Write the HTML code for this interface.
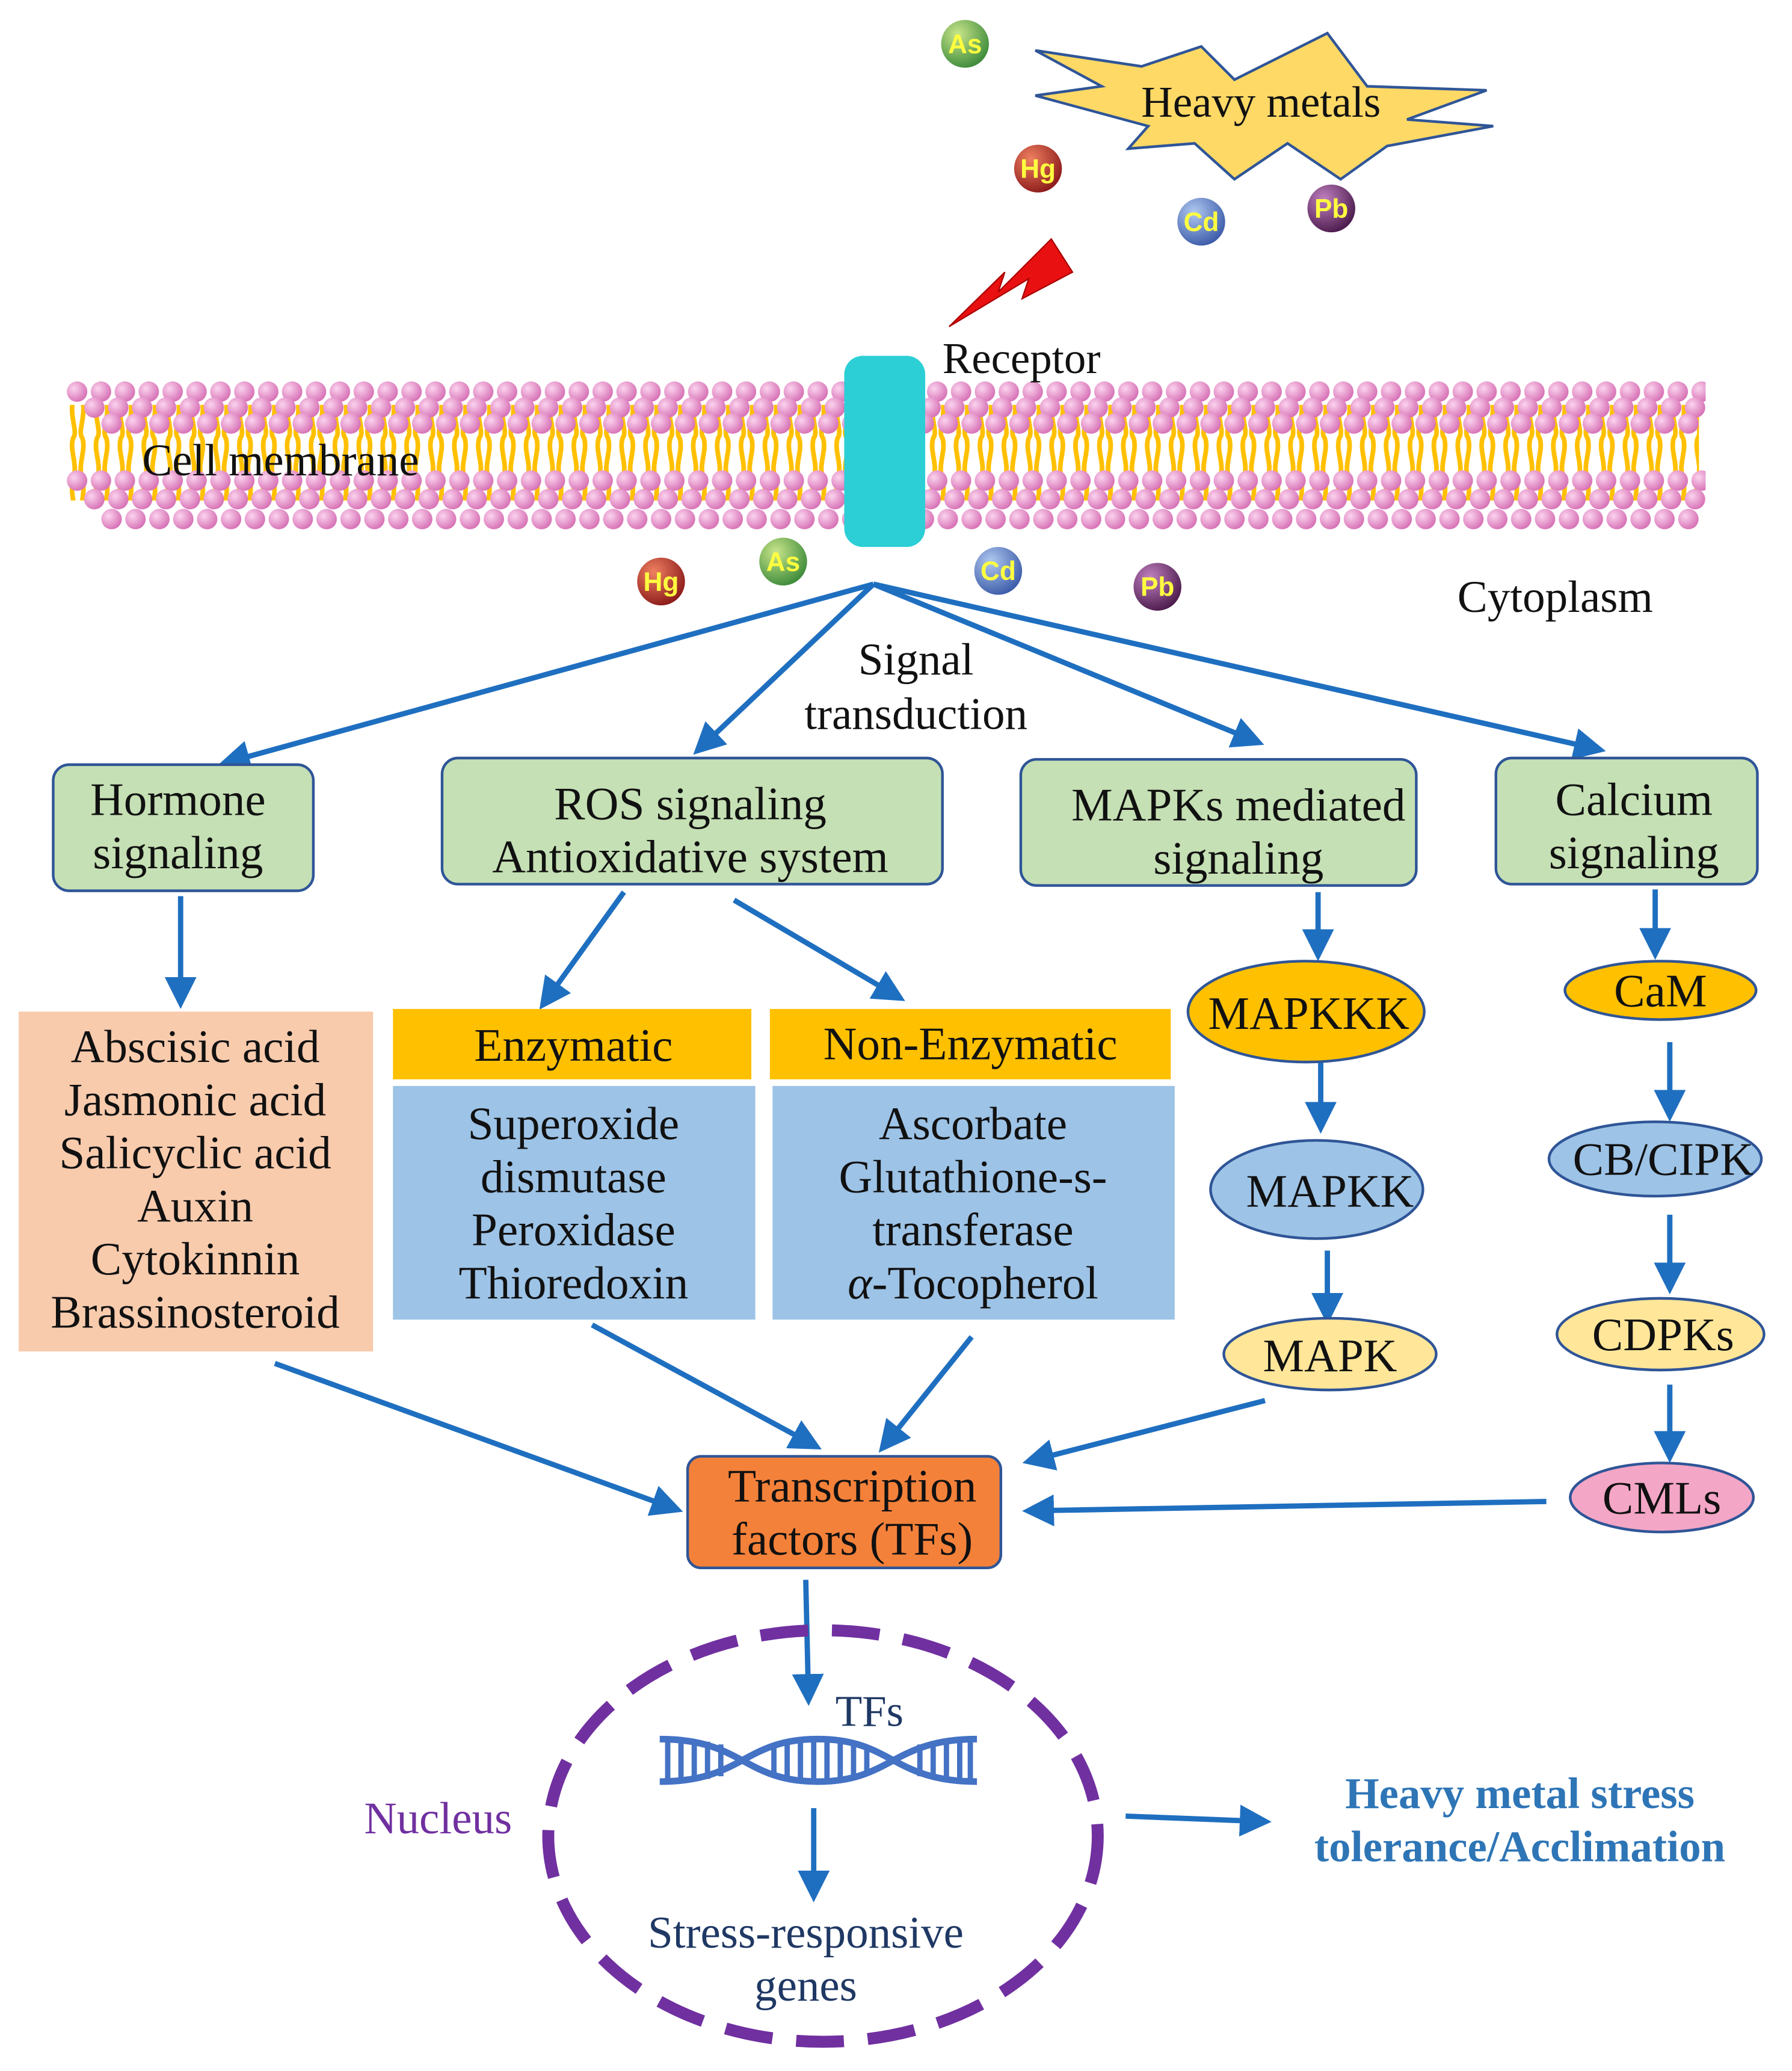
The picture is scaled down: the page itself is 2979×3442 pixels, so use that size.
<!DOCTYPE html>
<html><head><meta charset="utf-8"><style>
html,body{margin:0;padding:0;background:#fff}
svg{display:block}
text{font-family:"Liberation Serif",serif;fill:#111}
</style></head><body>
<svg width="2979" height="3442" viewBox="0 0 1350 1560" xmlns="http://www.w3.org/2000/svg">
<defs>
<radialGradient id="pk" cx="0.35" cy="0.35" r="0.7"><stop offset="0" stop-color="#fbd3ee"/><stop offset="1" stop-color="#d66fb4"/></radialGradient>
<radialGradient id="gA" cx="0.35" cy="0.3" r="0.75"><stop offset="0" stop-color="#c9e58a"/><stop offset="1" stop-color="#3b8a3a"/></radialGradient>
<radialGradient id="gH" cx="0.35" cy="0.3" r="0.75"><stop offset="0" stop-color="#f08060"/><stop offset="1" stop-color="#8a1a1a"/></radialGradient>
<radialGradient id="gC" cx="0.35" cy="0.3" r="0.75"><stop offset="0" stop-color="#b0c8f0"/><stop offset="1" stop-color="#3a5aa8"/></radialGradient>
<radialGradient id="gP" cx="0.35" cy="0.3" r="0.75"><stop offset="0" stop-color="#c080c0"/><stop offset="1" stop-color="#4a1a4a"/></radialGradient>
<pattern id="tail" x="50" y="0" width="18" height="60" patternUnits="userSpaceOnUse">
<path d="M5 0 C2 15 9 25 5 30 C2 40 9 50 5 60 M12 0 C15 15 8 25 12 30 C15 40 8 50 12 60" stroke="#ffc000" stroke-width="3.5" fill="none"/>
</pattern>
<pattern id="a1" x="49" y="286" width="18" height="18" patternUnits="userSpaceOnUse"><circle cx="9" cy="9" r="7.7" fill="url(#pk)"/></pattern>
<pattern id="a2" x="62" y="298" width="18" height="18" patternUnits="userSpaceOnUse"><circle cx="9" cy="9" r="7.7" fill="url(#pk)"/></pattern>
<pattern id="a3" x="75" y="310" width="18" height="18" patternUnits="userSpaceOnUse"><circle cx="9" cy="9" r="7.7" fill="url(#pk)"/></pattern>
<pattern id="b1" x="49" y="353" width="18" height="18" patternUnits="userSpaceOnUse"><circle cx="9" cy="9" r="7.7" fill="url(#pk)"/></pattern>
<pattern id="b2" x="62" y="367" width="18" height="18" patternUnits="userSpaceOnUse"><circle cx="9" cy="9" r="7.7" fill="url(#pk)"/></pattern>
<pattern id="b3" x="75" y="382" width="18" height="18" patternUnits="userSpaceOnUse"><circle cx="9" cy="9" r="7.7" fill="url(#pk)"/></pattern>
<marker id="ar" markerWidth="6" markerHeight="6" refX="4" refY="3" orient="auto" markerUnits="strokeWidth"><path d="M0,0 L6,3 L0,6 z" fill="#1f6fc0"/></marker>
</defs>

<!-- membrane -->
<rect x="52" y="305" width="1228" height="72" fill="url(#tail)"/>
<rect x="49" y="353" width="1236" height="18" fill="url(#b1)"/>
<rect x="62" y="367" width="1224" height="18" fill="url(#b2)"/>
<rect x="75" y="382" width="1206" height="18" fill="url(#b3)"/>
<rect x="49" y="286" width="1236" height="18" fill="url(#a1)"/>
<rect x="62" y="298" width="1224" height="18" fill="url(#a2)"/>
<rect x="75" y="310" width="1206" height="18" fill="url(#a3)"/>
<text x="107" y="358" font-size="34">Cell membrane</text>
<rect x="636" y="268" width="61" height="144" rx="14" fill="#2ccfd6"/>
<text x="710" y="281" font-size="33">Receptor</text>

<polygon points="780,38 860,50 905,35 930,60 1000,25 1030,65 1120,68 1060,90 1125,95 1045,110 1010,135 970,108 930,135 900,108 850,112 865,95 780,72 830,65" fill="#ffd966" stroke="#2f5597" stroke-width="2"/>
<text x="950" y="88" font-size="33" text-anchor="middle">Heavy metals</text>
<polygon points="792,180 808,205 770,225 775,210 715,246 757,205 752,220" fill="#e81010" stroke="#a00" stroke-width="1"/>

<g font-weight="bold" font-size="20" text-anchor="middle">
<circle cx="727" cy="33" r="18" fill="url(#gA)"/><text x="727" y="40" style="font-family:'Liberation Sans',sans-serif;fill:#ffff40">As</text>
<circle cx="782" cy="127" r="18" fill="url(#gH)"/><text x="782" y="134" style="font-family:'Liberation Sans',sans-serif;fill:#ffff40">Hg</text>
<circle cx="905" cy="167" r="18" fill="url(#gC)"/><text x="905" y="174" style="font-family:'Liberation Sans',sans-serif;fill:#ffff40">Cd</text>
<circle cx="1003" cy="157" r="18" fill="url(#gP)"/><text x="1003" y="164" style="font-family:'Liberation Sans',sans-serif;fill:#ffff40">Pb</text>
<circle cx="498" cy="438" r="18" fill="url(#gH)"/><text x="498" y="445" style="font-family:'Liberation Sans',sans-serif;fill:#ffff40">Hg</text>
<circle cx="590" cy="423" r="18" fill="url(#gA)"/><text x="590" y="430" style="font-family:'Liberation Sans',sans-serif;fill:#ffff40">As</text>
<circle cx="752" cy="430" r="18" fill="url(#gC)"/><text x="752" y="437" style="font-family:'Liberation Sans',sans-serif;fill:#ffff40">Cd</text>
<circle cx="872" cy="442" r="18" fill="url(#gP)"/><text x="872" y="449" style="font-family:'Liberation Sans',sans-serif;fill:#ffff40">Pb</text>
</g>
<text x="1098" y="461" font-size="34">Cytoplasm</text>
<text x="690" y="508" font-size="34" text-anchor="middle">Signal</text>
<text x="690" y="549" font-size="34" text-anchor="middle">transduction</text>

<g stroke="#1f6fc0" stroke-width="4" fill="none" marker-end="url(#ar)">
<line x1="658" y1="440" x2="172" y2="574"/>
<line x1="658" y1="440" x2="528" y2="563"/>
<line x1="658" y1="440" x2="945" y2="558"/>
<line x1="658" y1="440" x2="1202" y2="564"/>
<line x1="136" y1="675" x2="136" y2="752"/>
<line x1="470" y1="672" x2="411" y2="754"/>
<line x1="553" y1="678" x2="675" y2="750"/>
<line x1="993" y1="672" x2="993" y2="716"/>
<line x1="1247" y1="670" x2="1247" y2="715"/>
<line x1="995" y1="800" x2="995" y2="846"/>
<line x1="1000" y1="942" x2="1000" y2="990"/>
<line x1="1258" y1="785" x2="1258" y2="837"/>
<line x1="1258" y1="915" x2="1258" y2="967"/>
<line x1="1258" y1="1043" x2="1258" y2="1094"/>
<line x1="207" y1="1027" x2="507" y2="1136"/>
<line x1="446" y1="998" x2="612" y2="1088"/>
<line x1="732" y1="1007" x2="667" y2="1088"/>
<line x1="953" y1="1055" x2="778" y2="1100"/>
<line x1="1165" y1="1131" x2="778" y2="1138"/>
<line x1="607" y1="1190" x2="609" y2="1277"/>
<line x1="613" y1="1362" x2="613" y2="1425"/>
<line x1="848" y1="1368" x2="950" y2="1372"/>
</g>

<g stroke="#2f5597" stroke-width="2" fill="#c5e0b4">
<rect x="40" y="576" width="196" height="95" rx="12"/>
<rect x="333" y="571" width="377" height="95" rx="12"/>
<rect x="769" y="572" width="298" height="95" rx="12"/>
<rect x="1127" y="571" width="197" height="95" rx="12"/>
</g>
<g font-size="35" text-anchor="middle">
<text x="134" y="614">Hormone</text><text x="134" y="654">signaling</text>
<text x="520" y="617">ROS signaling</text><text x="520" y="657">Antioxidative system</text>
<text x="933" y="618">MAPKs mediated</text><text x="933" y="658">signaling</text>
<text x="1231" y="614">Calcium</text><text x="1231" y="654">signaling</text>
</g>

<rect x="14" y="762" width="267" height="256" fill="#f8cbad"/>
<g font-size="35" text-anchor="middle">
<text x="147" y="800">Abscisic acid</text><text x="147" y="840">Jasmonic acid</text><text x="147" y="880">Salicyclic acid</text>
<text x="147" y="920">Auxin</text><text x="147" y="960">Cytokinnin</text><text x="147" y="1000">Brassinosteroid</text>
</g>
<rect x="296" y="760" width="270" height="53" fill="#ffc000"/>
<rect x="296" y="818" width="273" height="176" fill="#9dc3e6"/>
<rect x="580" y="760" width="302" height="53" fill="#ffc000"/>
<rect x="582" y="818" width="303" height="176" fill="#9dc3e6"/>
<g font-size="35" text-anchor="middle">
<text x="432" y="799">Enzymatic</text>
<text x="731" y="798">Non-Enzymatic</text>
<text x="432" y="858">Superoxide</text><text x="432" y="898">dismutase</text><text x="432" y="938">Peroxidase</text><text x="432" y="978">Thioredoxin</text>
<text x="733" y="858">Ascorbate</text><text x="733" y="898">Glutathione-s-</text><text x="733" y="938">transferase</text><text x="733" y="978"><tspan font-style="italic">α</tspan>-Tocopherol</text>
</g>

<g stroke="#2f5597" stroke-width="2">
<ellipse cx="984" cy="762" rx="89" ry="38" fill="#ffc000"/>
<ellipse cx="992" cy="896" rx="80" ry="37" fill="#9dc3e6"/>
<ellipse cx="1002" cy="1020" rx="80" ry="27" fill="#ffe699"/>
<ellipse cx="1251" cy="746" rx="72" ry="22" fill="#ffc000"/>
<ellipse cx="1247" cy="873" rx="80" ry="28" fill="#9dc3e6"/>
<ellipse cx="1251" cy="1005" rx="78" ry="27" fill="#ffe699"/>
<ellipse cx="1252" cy="1128" rx="69" ry="26" fill="#f4a6c6"/>
</g>
<g font-size="35" text-anchor="middle">
<text x="986" y="775">MAPKKK</text>
<text x="1002" y="909">MAPKK</text>
<text x="1002" y="1033">MAPK</text>
<text x="1251" y="758">CaM</text>
<text x="1253" y="885">CB/CIPK</text>
<text x="1253" y="1017">CDPKs</text>
<text x="1252" y="1140">CMLs</text>
</g>

<rect x="518" y="1097" width="236" height="84" rx="10" fill="#f4813a" stroke="#2f5597" stroke-width="2"/>
<text x="642" y="1131" font-size="35" text-anchor="middle">Transcription</text>
<text x="642" y="1171" font-size="35" text-anchor="middle">factors (TFs)</text>

<ellipse cx="620" cy="1383" rx="207" ry="155" fill="none" stroke="#7030a0" stroke-width="9" stroke-dasharray="36 18"/>
<g fill="none" stroke="#4472c4" stroke-width="5">
<path d="M497 1310 C560 1310 560 1342 616 1342 C672 1342 672 1310 736 1310"/>
<path d="M497 1342 C560 1342 560 1310 616 1310 C672 1310 672 1342 736 1342"/>
</g>
<g stroke="#4472c4" stroke-width="4">
<line x1="503" y1="1310" x2="503" y2="1342"/><line x1="513" y1="1310" x2="513" y2="1342"/><line x1="523" y1="1311" x2="523" y2="1341"/><line x1="533" y1="1312" x2="533" y2="1340"/><line x1="543" y1="1314" x2="543" y2="1338"/>
<line x1="583" y1="1316" x2="583" y2="1336"/><line x1="593" y1="1313" x2="593" y2="1339"/><line x1="603" y1="1311" x2="603" y2="1341"/><line x1="613" y1="1310" x2="613" y2="1342"/><line x1="623" y1="1310" x2="623" y2="1342"/><line x1="633" y1="1311" x2="633" y2="1341"/><line x1="643" y1="1313" x2="643" y2="1339"/><line x1="653" y1="1316" x2="653" y2="1336"/>
<line x1="693" y1="1314" x2="693" y2="1338"/><line x1="703" y1="1312" x2="703" y2="1340"/><line x1="713" y1="1311" x2="713" y2="1341"/><line x1="723" y1="1310" x2="723" y2="1342"/><line x1="731" y1="1310" x2="731" y2="1342"/>
</g>
<text x="655" y="1300" font-size="33" text-anchor="middle" style="fill:#1f3864">TFs</text>
<text x="607" y="1467" font-size="34" text-anchor="middle" style="fill:#1f3864">Stress-responsive</text>
<text x="607" y="1507" font-size="34" text-anchor="middle" style="fill:#1f3864">genes</text>
<text x="330" y="1381" font-size="34" text-anchor="middle" style="fill:#7030a0">Nucleus</text>
<text x="1145" y="1362" font-size="33" font-weight="bold" text-anchor="middle" style="fill:#2e75b6">Heavy metal stress</text>
<text x="1145" y="1402" font-size="33" font-weight="bold" text-anchor="middle" style="fill:#2e75b6">tolerance/Acclimation</text>
</svg>
</body></html>
